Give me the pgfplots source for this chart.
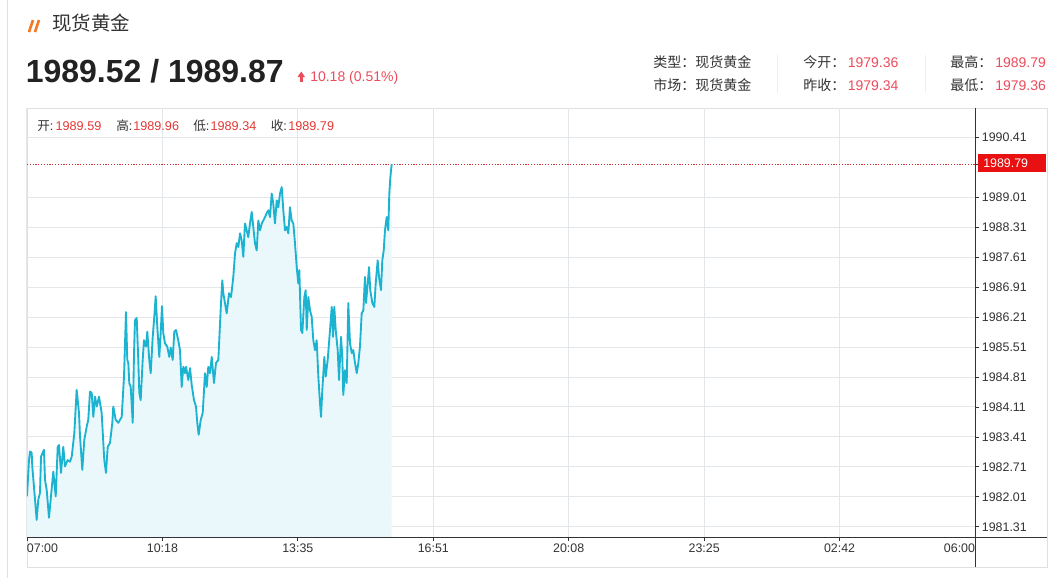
\documentclass[border=0pt]{standalone}
\usepackage{pgfplots}
\pgfplotsset{compat=1.18}
\usepackage{pgfplotstable}
\usepackage{fontspec}
\setmainfont{Liberation Sans}
\newfontfamily\cjk{Noto Sans CJK SC}

\definecolor{txt}{HTML}{333333}
\definecolor{dark}{HTML}{222222}
\definecolor{hdrred}{HTML}{EC4C5A}
\definecolor{inred}{HTML}{E53935}
\definecolor{tagred}{HTML}{E81010}
\definecolor{dotred}{HTML}{D32F2F}
\definecolor{iconor}{HTML}{F47920}
\definecolor{linec}{HTML}{1CB3D1}
\definecolor{fillc}{HTML}{EAF8FB}
\definecolor{gridc}{HTML}{E4E7EA}
\definecolor{boxc}{HTML}{E0E0E0}
\definecolor{sepc}{HTML}{EEEEEE}

\pgfplotstableread{
t p
0 1982.02
2.9 1982.87
4.4 1983.07
6.8 1983.04
7.7 1982.72
14.1 1981.47
16.4 1981.94
18.9 1982.10
20.4 1982.95
24.7 1983.11
26.2 1982.41
28.7 1982.17
32.0 1981.52
34.9 1982.02
38.3 1982.60
41.8 1982.02
44.7 1983.18
46.6 1983.22
49.5 1982.57
52.8 1983.18
55.3 1982.72
59.2 1982.87
62.6 1982.83
65.1 1982.95
68.9 1983.50
72.3 1984.51
75.7 1983.97
77.2 1983.42
80.5 1982.64
83.4 1983.34
86.9 1983.65
89.2 1983.81
91.7 1984.47
94.2 1984.44
96.5 1983.88
99.0 1984.35
101.5 1984.12
104.8 1984.35
108.7 1983.97
112.5 1982.87
115.0 1982.57
117.5 1983.18
120.8 1983.27
124.2 1983.74
125.6 1984.12
129.1 1983.81
132.9 1983.74
137.9 1983.88
141.2 1984.82
144.1 1986.33
146.0 1985.21
147.5 1985.14
148.9 1984.67
151.0 1984.58
153.9 1983.74
155.8 1985.37
157.2 1986.14
159.7 1986.19
162.0 1985.21
163.5 1984.44
165.5 1984.27
168.4 1985.21
170.3 1985.67
173.2 1985.52
175.1 1985.87
178.0 1985.21
180.1 1984.90
183.0 1985.75
185.3 1986.22
187.3 1986.70
189.7 1985.98
192.6 1985.28
194.6 1985.84
196.5 1986.47
198.4 1985.84
200.9 1985.60
204.2 1985.52
207.1 1985.28
209.2 1985.50
212.1 1985.21
214.4 1985.87
216.9 1985.91
220.2 1985.67
222.7 1985.44
225.2 1984.58
227.5 1985.05
230.0 1984.90
231.5 1985.05
234.8 1984.74
237.3 1985.02
239.8 1984.62
243.1 1984.27
246.0 1984.12
247.9 1983.74
249.9 1983.46
252.9 1983.81
255.8 1983.97
259.1 1984.90
261.6 1984.58
263.9 1985.05
266.4 1984.90
268.9 1985.28
272.2 1984.67
275.1 1985.14
278.5 1985.21
282.4 1986.54
284.3 1987.07
285.8 1986.77
288.2 1986.54
290.7 1986.30
294.1 1986.77
297.0 1986.68
300.3 1987.15
302.8 1987.70
305.3 1987.94
307.6 1987.85
310.1 1988.17
312.5 1988.01
314.9 1987.62
317.3 1988.40
319.8 1988.24
322.1 1988.08
324.6 1988.40
327.1 1988.67
329.4 1988.32
331.9 1987.94
334.4 1987.77
336.7 1988.47
339.2 1988.24
341.7 1988.40
344.0 1988.47
346.5 1988.55
348.9 1988.64
351.3 1988.71
353.7 1988.55
356.2 1989.10
358.5 1988.87
361.0 1988.40
363.5 1988.94
365.8 1988.78
368.3 1989.10
370.8 1989.25
373.1 1988.71
375.6 1988.24
378.0 1988.32
380.4 1988.17
382.8 1988.78
385.3 1988.47
387.7 1988.40
390.1 1987.94
392.6 1987.38
394.9 1987.00
396.4 1987.31
398.9 1985.91
400.8 1985.84
403.7 1986.68
405.7 1986.84
407.2 1985.91
409.5 1986.68
412.0 1986.37
414.4 1986.22
416.8 1985.67
419.2 1985.44
421.7 1985.67
424.1 1984.82
426.5 1984.20
428.0 1983.88
429.9 1984.51
432.8 1985.28
434.8 1984.82
437.7 1985.21
441.1 1985.91
443.6 1986.45
445.5 1985.75
447.3 1986.45
449.4 1985.91
452.3 1985.44
454.2 1984.74
457.1 1985.75
459.0 1985.28
460.4 1984.39
462.9 1984.97
465.4 1984.67
467.7 1986.54
470.2 1985.60
472.7 1985.37
475.0 1985.44
477.5 1985.14
480.0 1984.90
482.3 1985.14
484.7 1985.52
487.2 1986.30
489.6 1986.37
492.0 1987.15
493.5 1986.54
496.0 1987.00
497.9 1987.38
499.7 1986.84
502.7 1986.54
505.6 1986.45
507.6 1987.00
510.5 1987.54
512.4 1987.15
515.3 1986.84
517.2 1987.54
519.3 1987.77
521.1 1988.24
523.6 1988.55
525.9 1988.24
527.4 1989.10
528.9 1989.48
530.9 1989.79
}\gold

\begin{document}
\begin{tikzpicture}[x=0.75pt,y=-0.75pt]
\path[use as bounding box, fill=white] (0,0) rectangle (1053,578);
\draw[boxc, line width=0.75pt] (7,0) -- (7,578);
% header
\draw[iconor, line width=1.9pt] (29,32) -- (33,20) (35,32) -- (39,20);
\node[anchor=base west, inner sep=0pt, font=\cjk\fontsize{14.6}{17}\selectfont, text=txt] at (52,31) {现货黄金};
\node[anchor=base west, inner sep=0pt, font=\bfseries\fontsize{24}{28}\selectfont, text=dark] at (25.5,82) {1989.52 / 1989.87};
\fill[hdrred] (297.5,77) -- (301.3,71.5) -- (305,77) -- cycle;
\fill[hdrred] (300,76.5) rectangle (302.6,81.7);
\node[anchor=base west, inner sep=0pt, font=\fontsize{10.5}{12}\selectfont, text=hdrred] at (310,81.5) {10.18 (0.51\%)};
% right info
\begin{scope}[every node/.style={anchor=base west, inner sep=0pt, font=\fontsize{10.5}{12}\selectfont}]
\node[text=txt, font=\cjk\fontsize{10.5}{12}\selectfont] at (653,67) {类型：现货黄金};
\node[text=txt, font=\cjk\fontsize{10.5}{12}\selectfont] at (653,90.5) {市场：现货黄金};
\node[text=txt, font=\cjk\fontsize{10.5}{12}\selectfont] at (803,67) {今开：};
\node[text=txt, font=\cjk\fontsize{10.5}{12}\selectfont] at (803,90.5) {昨收：};
\node[text=txt, font=\cjk\fontsize{10.5}{12}\selectfont] at (950,67) {最高：};
\node[text=txt, font=\cjk\fontsize{10.5}{12}\selectfont] at (950,90.5) {最低：};
\node[text=hdrred] at (847.5,67) {1979.36};
\node[text=hdrred] at (847.5,90.5) {1979.34};
\node[text=hdrred] at (995,67) {1989.79};
\node[text=hdrred] at (995,90.5) {1979.36};
\end{scope}
\draw[sepc, line width=0.75pt] (777,55) -- (777,93) (925,55) -- (925,93);
% chart box
\draw[boxc, line width=0.75pt] (27,108) rectangle (1047,567);

\begin{axis}[at={(20.25pt,-402.75pt)}, anchor=south west, scale only axis,
  width=711pt, height=321.75pt,
  xmin=0, xmax=1380, ymin=1981.07, ymax=1991.10,
  axis line style={draw=none},
  xtick={0,197.142857,394.285714,591.428571,788.571429,985.714286,1182.857143,1380},
  xticklabels={\makebox[0pt][l]{07:00},10:18,13:35,16:51,20:08,23:25,02:42,\makebox[0pt][r]{06:00}},
  ytick={1981.31,1982.01,1982.71,1983.41,1984.11,1984.81,1985.51,1986.21,1986.91,1987.61,1988.31,1989.01,1990.41},
  yticklabels={1981.31,1982.01,1982.71,1983.41,1984.11,1984.81,1985.51,1986.21,1986.91,1987.61,1988.31,1989.01,1990.41},
  extra y ticks={1989.79}, extra y tick labels={},
  extra y tick style={major grid style={dotred, line width=0.75pt, dash pattern=on 0.9pt off 1.2pt}},
  tick align=outside, xtick pos=bottom, ytick pos=right,
  major tick length=3pt,
  tick style={txt, line width=0.6pt},
  grid=major, major grid style={gridc, line width=0.75pt},
  xticklabel style={font=\fontsize{9.3}{11}\selectfont, text=txt, inner sep=0pt, yshift=-2pt},
  yticklabel style={font=\fontsize{9.3}{11}\selectfont, text=txt, inner sep=0pt, anchor=west, xshift=2pt},
  clip=true, axis on top=false]
\addplot[draw=none, fill=fillc] table[x=t, y=p] {\gold} \closedcycle;
\addplot[linec, line width=1.4pt, line join=round] table[x=t, y=p] {\gold};
\end{axis}
% axis lines
\draw[txt, line width=0.75pt] (27,537) -- (1047,537);
\draw[txt, line width=0.75pt] (975,108) -- (975,567);
% current price tag
\node[fill=tagred, text=white, anchor=west, inner xsep=3.75pt, inner ysep=0pt, minimum height=13.5pt, text width=43.5pt, align=left, font=\fontsize{9.3}{11}\selectfont] at (978,163.3) {1989.79};
% info line
\begin{scope}[every node/.style={anchor=base west, inner sep=0pt, font=\fontsize{9.5}{11}\selectfont}]
\node[text=txt] at (37,130) {{\cjk 开}:};
\node[text=inred] at (55.3,130) {1989.59};
\node[text=txt] at (116,130) {{\cjk 高}:};
\node[text=inred] at (133,130) {1989.96};
\node[text=txt] at (193,130) {{\cjk 低}:};
\node[text=inred] at (210.3,130) {1989.34};
\node[text=txt] at (270.5,130) {{\cjk 收}:};
\node[text=inred] at (288,130) {1989.79};
\end{scope}
\end{tikzpicture}
\end{document}
